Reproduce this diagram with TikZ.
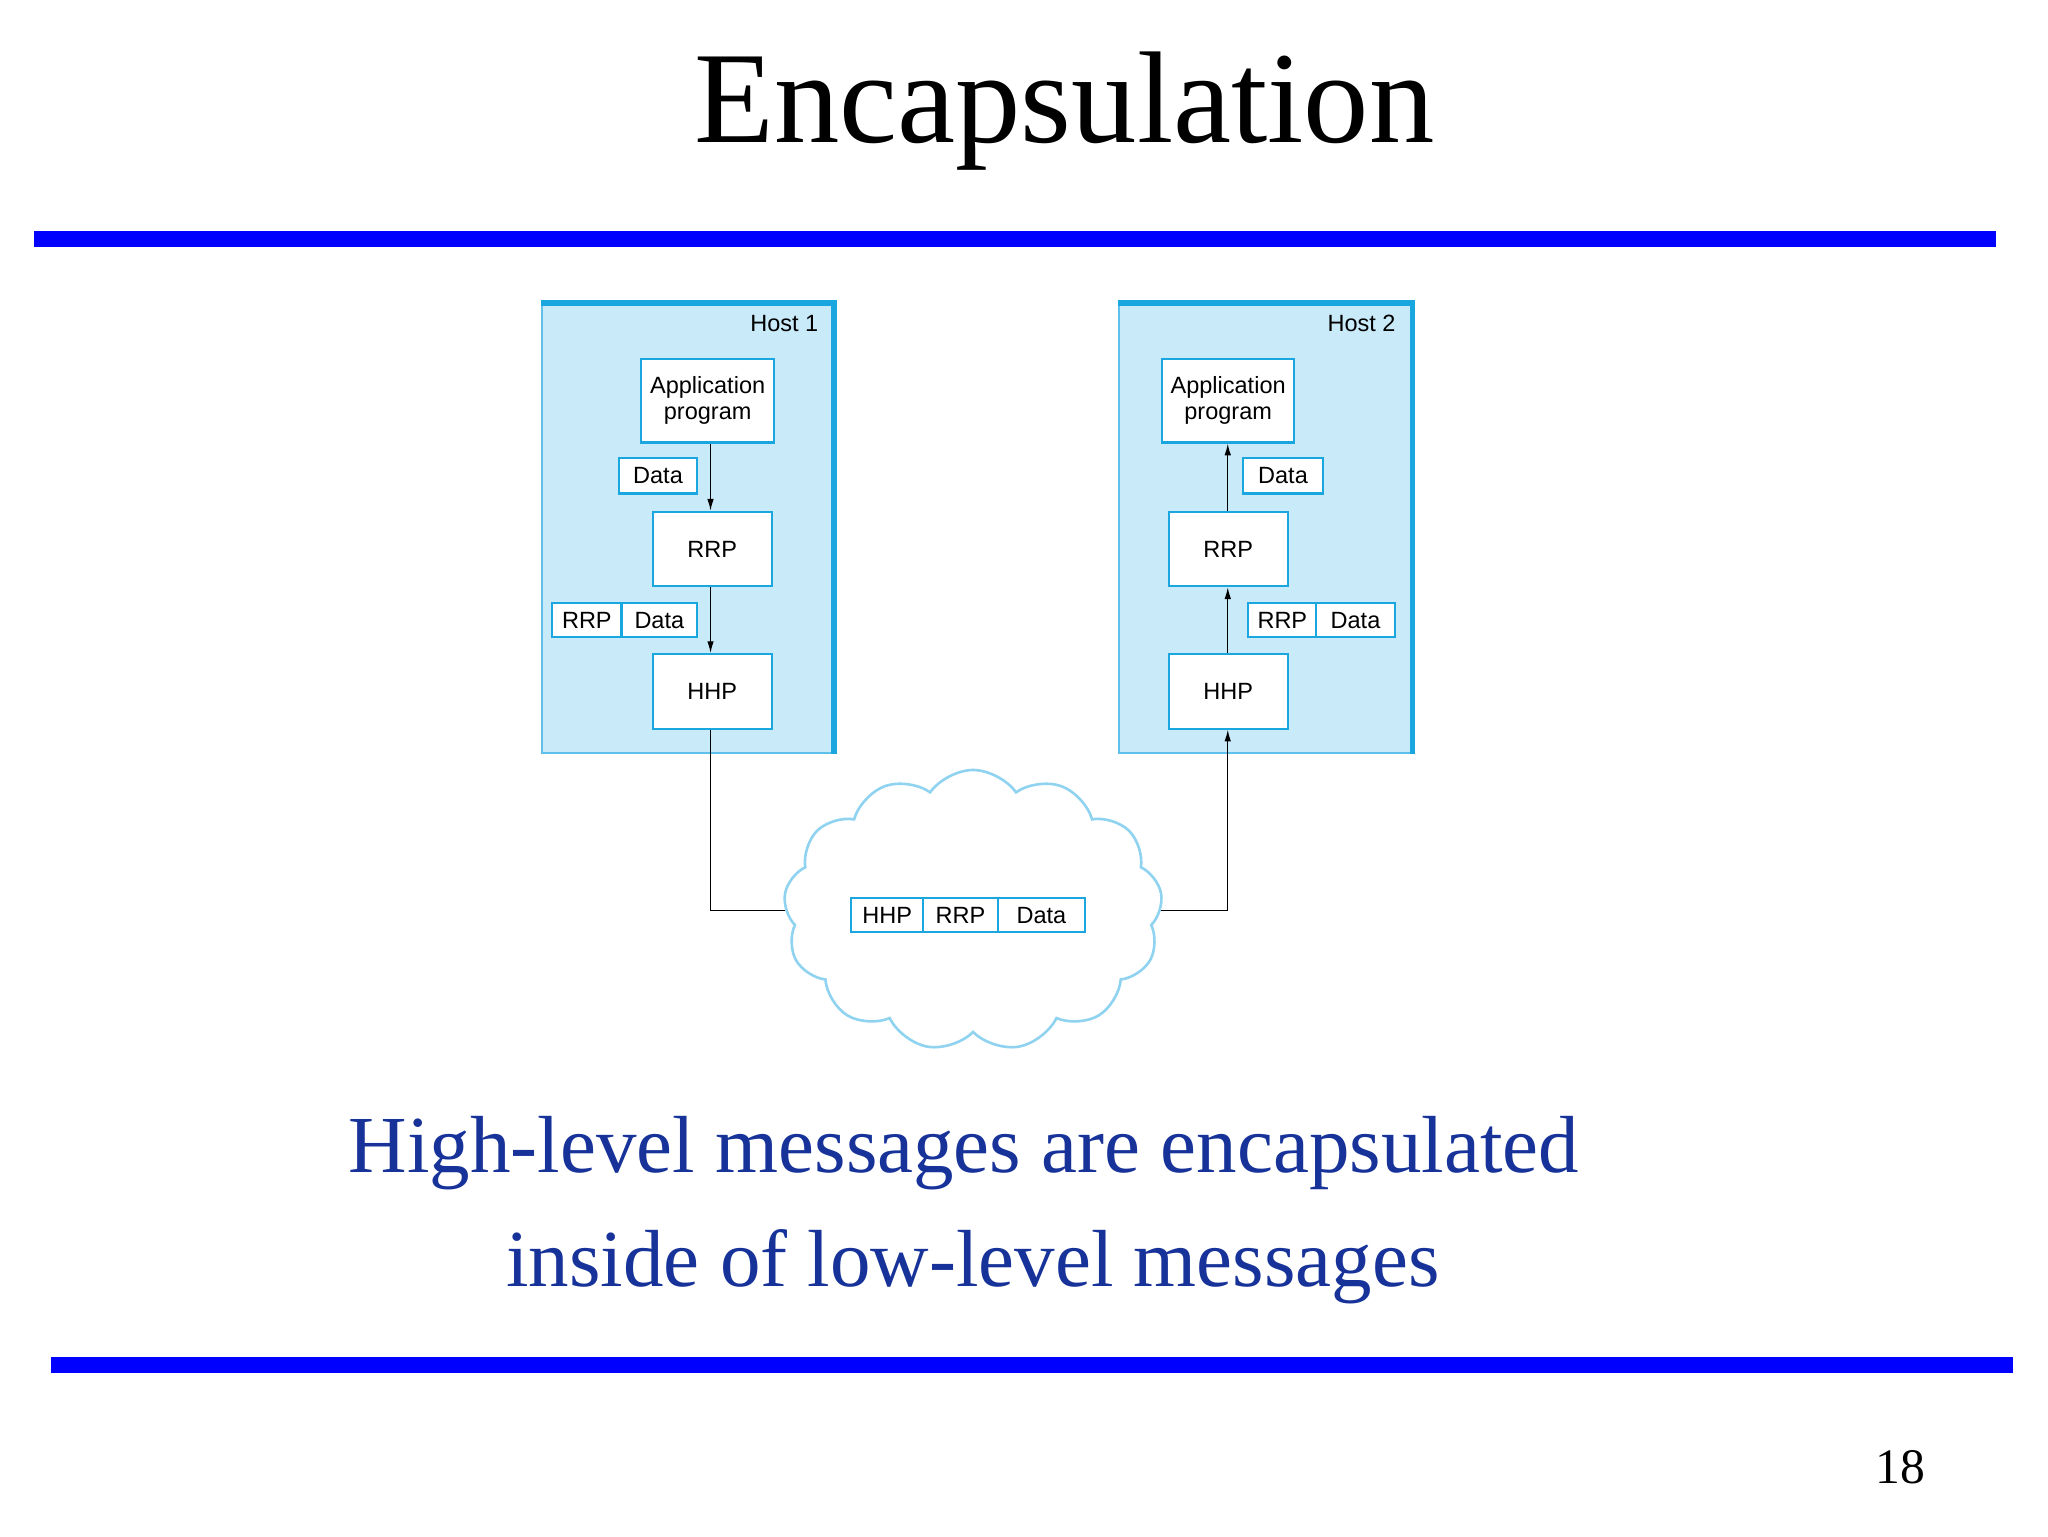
\documentclass[tikz,border=0pt]{standalone}
\usepackage{fontspec}
\setmainfont{Liberation Serif}
\newfontfamily\lab{Liberation Sans}
\usetikzlibrary{shapes.symbols,arrows.meta}
\definecolor{hostfill}{HTML}{C8EAF9}
\definecolor{cy}{HTML}{1AA7DF}
\definecolor{cloudline}{HTML}{8FD3F0}
\definecolor{txtblue}{HTML}{17339A}
\tikzset{
 box/.style={draw=cy,fill=white,line width=1.6pt,anchor=north west,inner sep=0pt,font=\lab\fontsize{18}{20}\selectfont,align=center},
 host/.style={draw=cy!70,fill=hostfill,line width=1.5pt,anchor=north west,inner sep=0pt},
 conn/.style={line width=1pt,black},
 arr/.style={conn,-{Latex[length=9pt,width=5pt]}},
 bar/.style={blue,line width=12pt}
}
\begin{document}
\begin{tikzpicture}[x=1pt,y=-1pt]
\useasboundingbox (0,0) rectangle (1568,1176);
\node (title) at (815,85) {\fontsize{100}{110}\selectfont Encapsulation};
\draw[bar] (26,183) -- (1528,183);
\draw[bar] (39,1045) -- (1541,1045);
% hosts
\node[host,minimum width=223,minimum height=344] (h1) at (414,232) {};
\node[host,minimum width=224,minimum height=344] (h2) at (856,232) {};
\draw[cy,line width=4pt] (h1.north west) -- (h1.north east) -- (h1.south east);
\draw[cy,line width=4pt] (h2.north west) -- (h2.north east) -- (h2.south east);
\node[anchor=north east,font=\lab\fontsize{18}{20}\selectfont] at (630,238) {Host 1};
\node[anchor=north east,font=\lab\fontsize{18}{20}\selectfont] at (1072,238) {Host 2};
% host1
\node[box,minimum width=102,minimum height=64] (a1) at (490,274) {Application\\program};
\node[box,minimum width=60,minimum height=27] (d1) at (473,350) {Data};
\node[box,minimum width=91,minimum height=57] (r1) at (499,391) {RRP};
\node[box,minimum width=53,minimum height=26] (rd1a) at (422,461) {RRP};
\node[box,minimum width=58,minimum height=26] (rd1b) at (475,461) {Data};
\node[box,minimum width=91,minimum height=57] (hh1) at (499,500) {HHP};
% host2
\node[box,minimum width=101,minimum height=64] (a2) at (889,274) {Application\\program};
\node[box,minimum width=61,minimum height=27] (d2) at (951,350) {Data};
\node[box,minimum width=91,minimum height=57] (r2) at (894,391) {RRP};
\node[box,minimum width=52,minimum height=26] (rd2a) at (955,461) {RRP};
\node[box,minimum width=60,minimum height=26] (rd2b) at (1007,461) {Data};
\node[box,minimum width=91,minimum height=57] (hh2) at (894,500) {HHP};
% cloud
\node[cloud,cloud puffs=13,cloud puff arc=110,aspect=1.4,draw=cloudline,fill=white,line width=2pt,minimum width=290,minimum height=215] (cl) at (745,697) {};
\node[box,minimum width=55,minimum height=26] (p1) at (651,687) {HHP};
\node[box,minimum width=57,minimum height=26] (p2) at (706,687) {RRP};
\node[box,minimum width=67,minimum height=26] (p3) at (763,687) {Data};
% connectors
\draw[arr] (a1.south -| 544,0) -- (r1.north -| 544,0);
\draw[arr] (r1.south -| 544,0) -- (hh1.north -| 544,0);
\draw[conn] (hh1.south -| 544,0) |- (cl.west);
\draw[arr] (r2.north -| 940,0) -- (a2.south -| 940,0);
\draw[arr] (hh2.north -| 940,0) -- (r2.south -| 940,0);
\draw[arr] (cl.east) -| (hh2.south -| 940,0);
% text
\node[txtblue,font=\fontsize{62}{70}\selectfont] (t1) at (738,883) {High-level messages are encapsulated};
\node[txtblue,font=\fontsize{62}{70}\selectfont] (t2) at (745,970) {inside of low-level messages};
\node[font=\fontsize{38}{40}\selectfont] (pg) at (1455,1123) {18};
\end{tikzpicture}
\end{document}
